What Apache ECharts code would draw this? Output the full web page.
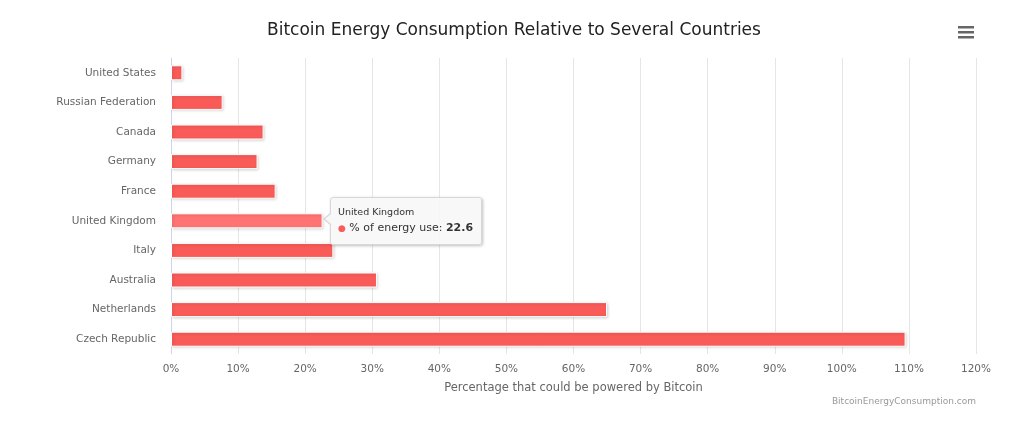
<!DOCTYPE html>
<html>
<head>
<meta charset="utf-8">
<style>
  html, body { margin: 0; padding: 0; background: #fff; }
  #chart { width: 1028px; height: 431px; }
</style>
<script src="https://cdn.jsdelivr.net/npm/echarts@6/dist/echarts.min.js"></script>
</head>
<body>
<div id="chart"></div>
<script>
const countries = ["United States", "Russian Federation", "Canada", "Germany", "France",
  "United Kingdom", "Italy", "Australia", "Netherlands", "Czech Republic"];
const energyShare = [1.7, 7.7, 13.8, 12.9, 15.6, 22.6, 24.2, 30.7, 65.0, 109.5];
const xTicks = { min: 0, max: 120, interval: 10 };
const seriesName = "% of energy use";
const titleText = "Bitcoin Energy Consumption Relative to Several Countries";
const xAxisTitle = "Percentage that could be powered by Bitcoin";
const creditText = "BitcoinEnergyConsumption.com";
const highlightedIndex = 5;

const FONT = '"DejaVu Sans", Verdana, sans-serif';
const chart = echarts.init(document.getElementById('chart'), null, { renderer: 'canvas' });

chart.setOption({
  animation: false,
  title: {
    text: titleText,
    left: 'center',
    top: 17,
    textStyle: { fontFamily: FONT, fontSize: 17, fontWeight: 'normal', color: '#222222' }
  },
  grid: { left: 171, right: 52, top: 58, bottom: 77, containLabel: false },
  xAxis: {
    type: 'value',
    min: xTicks.min, max: xTicks.max, interval: xTicks.interval,
    name: xAxisTitle,
    nameLocation: 'middle',
    nameGap: 28,
    nameTextStyle: { fontFamily: FONT, fontSize: 11.5, color: '#666666' },
    axisLine: { show: false },
    axisTick: { show: false },
    axisLabel: { formatter: '{value}%', fontFamily: FONT, fontSize: 10.5, color: '#666666', margin: 10 },
    splitLine: { lineStyle: { color: '#e6e6e6', width: 1 } }
  },
  yAxis: {
    type: 'category',
    data: countries,
    inverse: true,
    axisLine: { show: true, lineStyle: { color: '#ccd6eb' } },
    axisTick: { show: false },
    axisLabel: { fontFamily: FONT, fontSize: 10.5, color: '#666666', margin: 15 },
    splitLine: { show: false }
  },
  tooltip: {
    trigger: 'item',
    triggerOn: 'none',
    alwaysShowContent: true,
    backgroundColor: 'rgba(247,247,247,0.92)',
    borderColor: '#d8d8d8',
    borderWidth: 1,
    padding: [7, 8, 7, 7],
    extraCssText: 'box-shadow: 1px 1px 3px rgba(0,0,0,0.25); border-radius: 3px; overflow: visible;',
    position: function (point, params, dom, rect, size) {
      return [rect.x + rect.width + 7, rect.y + rect.height / 2 - size.contentSize[1] / 2];
    },
    formatter: function (p) {
      return '<div style="position:relative;font-family:DejaVu Sans,Verdana,sans-serif;">' +
        '<div style="position:absolute;left:-15px;top:8px;width:0;height:0;border-top:6px solid transparent;border-bottom:6px solid transparent;border-right:7px solid #d8d8d8;"></div>' +
        '<div style="position:absolute;left:-13px;top:9px;width:0;height:0;border-top:5px solid transparent;border-bottom:5px solid transparent;border-right:6px solid #f7f7f7;"></div>' +
        '<div style="font-size:9.5px;color:#333;line-height:14px;">' + p.name + '</div>' +
        '<div style="font-size:11px;color:#333;line-height:17px;">' +
        '<span style="color:' + '#f95d5a' + ';font-size:9px;">●</span> ' + p.seriesName + ': <b>' + p.value + '</b></div></div>';
    }
  },
  series: [{
    type: 'bar',
    name: seriesName,
    data: energyShare,
    barWidth: 15,
    itemStyle: {
      color: '#f95b58',
      borderColor: '#ffffff',
      borderWidth: 1,
      shadowColor: 'rgba(0,0,0,0.18)',
      shadowBlur: 3,
      shadowOffsetX: 1,
      shadowOffsetY: 1
    },
    emphasis: {
      itemStyle: { color: '#ff7373' }
    }
  }],
  graphic: [
    {
      type: 'text',
      right: 52,
      top: 397,
      style: { text: creditText, fontFamily: FONT, fontSize: 9, fill: '#999999' }
    },
    { type: 'rect', left: 958, top: 26, shape: { width: 16, height: 2.5 }, style: { fill: '#666666' } },
    { type: 'rect', left: 958, top: 31, shape: { width: 16, height: 2.5 }, style: { fill: '#666666' } },
    { type: 'rect', left: 958, top: 36, shape: { width: 16, height: 2.5 }, style: { fill: '#666666' } }
  ]
});

chart.dispatchAction({ type: 'highlight', seriesIndex: 0, dataIndex: highlightedIndex });
chart.dispatchAction({ type: 'showTip', seriesIndex: 0, dataIndex: highlightedIndex });
</script>
</body>
</html>
